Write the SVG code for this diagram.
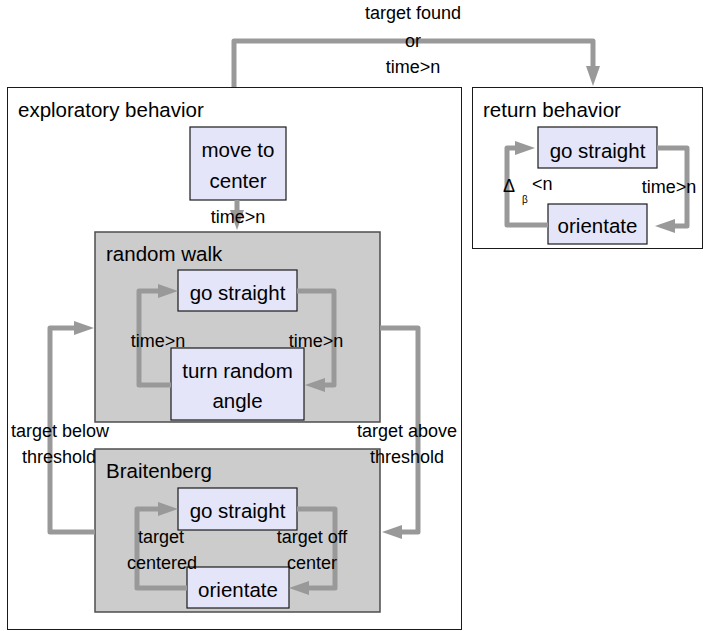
<svg xmlns="http://www.w3.org/2000/svg" width="705" height="631" viewBox="0 0 705 631">
<style>
.frame{fill:#ffffff;stroke:#1a1a1a;stroke-width:1}
.grp{fill:#cccccc;stroke:#4d4d4d;stroke-width:1.5}
.node{fill:#e5e5fa;stroke:#1a1a1a;stroke-width:1.2}
.t{font-family:"Liberation Sans",Arial,sans-serif;fill:#000}
.nl{font-size:20.5px;text-anchor:middle}
.gl{font-size:20.5px}
.el{font-size:18px;text-anchor:middle}
.edge{fill:none;stroke:#999999;stroke-width:5;stroke-linejoin:round;marker-end:url(#ah)}
</style>
<defs>
<marker id="ah" markerUnits="userSpaceOnUse" viewBox="0 0 20 14" markerWidth="20" markerHeight="14" refX="0" refY="7" orient="auto">
<path d="M0,0 L20,7 L0,14 z" fill="#999999"/>
</marker>
</defs>
<rect width="705" height="631" fill="#ffffff"/>

<g id="exploratory">
<rect class="frame" x="7.5" y="87.5" width="454" height="542"/>
<text class="t gl" x="18" y="117">exploratory behavior</text>
</g>
<g id="return">
<rect class="frame" x="472.5" y="87.5" width="230" height="161"/>
<text class="t gl" x="483" y="117">return behavior</text>
</g>

<g id="random-walk">
<rect class="grp" x="95" y="232" width="285" height="190"/>
<text class="t gl" x="106" y="261">random walk</text>
</g>
<g id="braitenberg">
<rect class="grp" x="95" y="449" width="285" height="163"/>
<text class="t gl" x="106" y="478">Braitenberg</text>
</g>

<g id="move-to-center">
<rect class="node" x="190" y="127" width="96" height="73"/>
<text class="t nl" x="238" y="157">move to</text>
<text class="t nl" x="238" y="188">center</text>
</g>
<g id="rw-go-straight">
<rect class="node" x="178" y="270" width="119" height="41"/>
<text class="t nl" x="237.5" y="300">go straight</text>
</g>
<g id="turn-random-angle">
<rect class="node" x="171" y="348" width="133" height="72"/>
<text class="t nl" x="237.5" y="378">turn random</text>
<text class="t nl" x="237.5" y="408">angle</text>
</g>
<g id="br-go-straight">
<rect class="node" x="178" y="488" width="119" height="42"/>
<text class="t nl" x="237.5" y="518">go straight</text>
</g>
<g id="br-orientate">
<rect class="node" x="187" y="567" width="102" height="41"/>
<text class="t nl" x="238" y="597">orientate</text>
</g>
<g id="ret-go-straight">
<rect class="node" x="538" y="127" width="119" height="41"/>
<text class="t nl" x="597.5" y="158">go straight</text>
</g>
<g id="ret-orientate">
<rect class="node" x="548" y="204" width="99" height="40"/>
<text class="t nl" x="597.5" y="233">orientate</text>
</g>

<g id="connectors">
<path class="edge" d="M234,87 V41 H593 V66"/>
<path class="edge" d="M237,200 V210"/>
<path class="edge" d="M297,291 H334 V385 H325"/>
<path class="edge" d="M171,385 H139 V291 H158"/>
<path class="edge" d="M380,328 H418 V532 H402"/>
<path class="edge" d="M95,532 H50 V328 H74"/>
<path class="edge" d="M297,509 H335 V588 H309"/>
<path class="edge" d="M187,588 H137 V509 H158"/>
<path class="edge" d="M657,148 H687 V226 H675"/>
<path class="edge" d="M548,225 H507 V148 H515"/>

<text class="t el" x="413" y="19">target found</text>
<text class="t el" x="413" y="47">or</text>
<text class="t el" x="413" y="73">time&gt;n</text>
<text class="t el" x="238" y="223">time&gt;n</text>
<text class="t el" x="158" y="347">time&gt;n</text>
<text class="t el" x="316" y="347">time&gt;n</text>
<text class="t el" x="60" y="437">target below</text>
<text class="t el" x="59" y="463">threshold</text>
<text class="t el" x="407" y="437">target above</text>
<text class="t el" x="407" y="463">threshold</text>
<text class="t el" x="161" y="543">target</text>
<text class="t el" x="162" y="569">centered</text>
<text class="t el" x="312" y="543">target off</text>
<text class="t el" x="312" y="569">center</text>
<text class="t el" x="669" y="193">time&gt;n</text>
<text class="t" font-size="18" x="503" y="192">Δ</text>
<text class="t" font-size="10" x="522" y="203">β</text>
<text class="t" font-size="18" x="532" y="190">&lt;n</text>
</g>
</svg>
